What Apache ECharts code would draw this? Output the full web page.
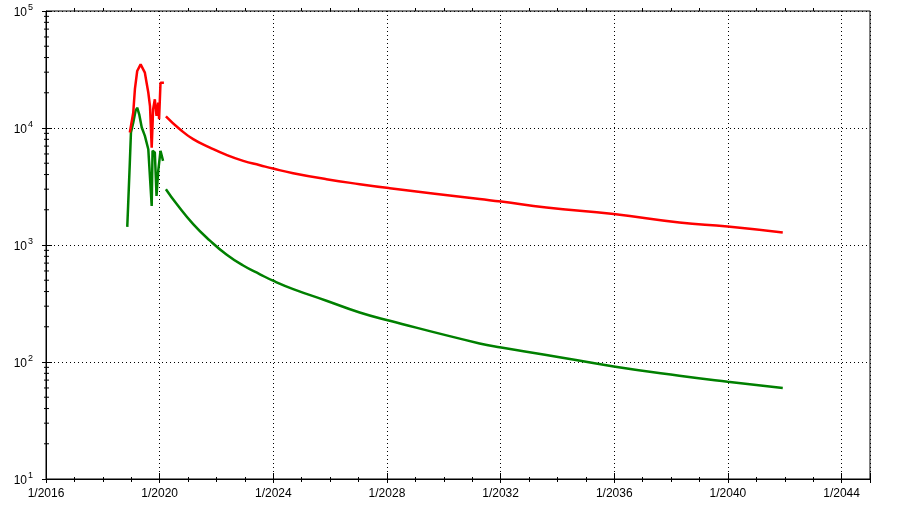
<!DOCTYPE html>
<html>
<head>
<meta charset="utf-8">
<script src="https://cdn.jsdelivr.net/npm/echarts@6/dist/echarts.min.js"></script>
<style>
  html, body { margin: 0; padding: 0; background: #fff; }
  #chart { width: 921px; height: 513px; }
</style>
</head>
<body>
<div id="chart"></div>
<script>
// x values are decimal years
var redEarlyX = [2018.95, 2019.07, 2019.13, 2019.21, 2019.33, 2019.40, 2019.48, 2019.54, 2019.60, 2019.66, 2019.72, 2019.77, 2019.83, 2019.89, 2019.95, 2019.98, 2020.03, 2020.10, 2020.15];
var redEarlyY = [9140, 13500, 21600, 30700, 35000, 33900, 29700, 24400, 20100, 15400, 6800, 14500, 17600, 12700, 16500, 11900, 24400, 23700, 24400];

var greenEarlyX = [2018.86, 2018.89, 2018.95, 2018.99, 2019.07, 2019.15, 2019.21, 2019.28, 2019.37, 2019.48, 2019.60, 2019.66, 2019.72, 2019.75, 2019.83, 2019.89, 2019.95, 2020.03, 2020.07, 2020.12];
var greenEarlyY = [1430, 2160, 5060, 9140, 11100, 14000, 14900, 13100, 10100, 8560, 6590, 6380, 2160, 6380, 6170, 2630, 4300, 6380, 6630, 5240];

var redLateX = [2020.22, 2020.71, 2021.18, 2021.77, 2022.35, 2022.94, 2023.53, 2023.99, 2024.70, 2025.87, 2027.04, 2028.10, 2031.26, 2032.02, 2033.61, 2035.98, 2038.29, 2039.99, 2041.93];
var redLateY = [12600, 9770, 8030, 6800, 5890, 5240, 4810, 4500, 4110, 3650, 3310, 3060, 2470, 2350, 2090, 1840, 1560, 1440, 1280];

var greenLateX = [2020.22, 2020.60, 2021.18, 2021.77, 2022.35, 2022.94, 2023.53, 2023.99, 2024.70, 2025.87, 2027.04, 2028.10, 2031.26, 2032.02, 2033.61, 2035.98, 2038.29, 2039.99, 2041.93];
var greenLateY = [3000, 2240, 1510, 1090, 830, 668, 562, 495, 420, 334, 265, 225, 144, 133, 115, 91.7, 76.4, 67.9, 60.0];

var xMin = 2016, xMax = 2045, xStep = 4;
var yMin = 10, yMax = 100000;

function zip(xs, ys) {
  return xs.map(function (x, i) { return [x, ys[i]]; });
}

// minor ticks of the log axis (2..9 in every decade)
var yMinor = [];
for (var d = yMin; d < yMax; d *= 10) {
  for (var k = 2; k <= 9; k++) yMinor.push([xMin, d * k]);
}

var chart = echarts.init(document.getElementById('chart'));
var font = 'Liberation Sans, Arial, sans-serif';
var dots = { color: '#000', width: 1, type: [1, 3] };

var option = {
  animation: false,
  grid: {
    left: 46, right: 51, top: 11, bottom: 34,
    show: true, borderColor: '#000', borderWidth: 1, backgroundColor: 'transparent'
  },
  xAxis: [
    {
      type: 'value', min: xMin, max: xMax, interval: xStep,
      axisLine: { show: true, lineStyle: { color: '#000', width: 1 } },
      axisTick: { show: true, length: 4, lineStyle: { color: '#000' } },
      minorTick: { show: true, splitNumber: 4, length: 3, lineStyle: { color: '#000' } },
      splitLine: { show: true, lineStyle: dots },
      axisLabel: {
        color: '#000', fontFamily: font, fontSize: 12, margin: 9, showMaxLabel: false,
        formatter: function (v) { return v % xStep === 0 ? '1/' + v : ''; }
      }
    },
    {
      // inner half of the bottom ticks
      type: 'value', min: xMin, max: xMax, interval: xStep, position: 'bottom',
      axisLine: { show: false },
      axisTick: { show: true, inside: true, length: 6, lineStyle: { color: '#000' } },
      minorTick: { show: true, splitNumber: 4, length: 2, lineStyle: { color: '#000' } },
      splitLine: { show: false },
      axisLabel: { show: false }
    },
    {
      type: 'value', min: xMin, max: xMax, interval: xStep, position: 'top',
      axisLine: { show: false },
      axisTick: { show: false },
      minorTick: { show: true, splitNumber: 4, length: 3, lineStyle: { color: '#000' } },
      splitLine: { show: false },
      axisLabel: { show: false }
    }
  ],
  yAxis: [
    {
      type: 'log', logBase: 10, min: yMin, max: yMax,
      axisLine: { show: true, lineStyle: { color: '#000', width: 1 } },
      axisTick: { show: true, length: 4, lineStyle: { color: '#000' } },
      splitLine: { show: true, lineStyle: dots },
      axisLabel: {
        color: '#000', fontFamily: font, margin: 13,
        formatter: function (v) {
          return '{b|10}{e|' + Math.round(Math.log10(v)) + '}';
        },
        rich: {
          b: { fontSize: 12, fontFamily: font, color: '#000', lineHeight: 16, verticalAlign: 'bottom' },
          e: { fontSize: 9, fontFamily: font, color: '#000', lineHeight: 16, verticalAlign: 'top', padding: [0, 0, 0, 1] }
        }
      }
    },
    {
      type: 'log', logBase: 10, min: yMin, max: yMax, position: 'left',
      axisLine: { show: false },
      axisTick: { show: true, inside: true, length: 6, lineStyle: { color: '#000' } },
      splitLine: { show: false },
      axisLabel: { show: false }
    }
  ],
  series: [
    {
      type: 'custom', silent: true, clip: false, z: 5,
      renderItem: function (params, api) {
        var p = api.coord([api.value(0), api.value(1)]);
        return {
          type: 'line',
          shape: { x1: p[0] - 2, y1: p[1], x2: p[0] + 3, y2: p[1] },
          style: { stroke: '#000', lineWidth: 1 }
        };
      },
      encode: { x: 0, y: 1 },
      data: yMinor
    },
    {
      type: 'line', data: zip(greenEarlyX, greenEarlyY), showSymbol: false,
      lineStyle: { color: '#008000', width: 2.5 }, itemStyle: { color: '#008000' }
    },
    {
      type: 'line', data: zip(greenLateX, greenLateY), showSymbol: false, smooth: true,
      lineStyle: { color: '#008000', width: 2.5 }, itemStyle: { color: '#008000' }
    },
    {
      type: 'line', data: zip(redEarlyX, redEarlyY), showSymbol: false,
      lineStyle: { color: '#ff0000', width: 2.5 }, itemStyle: { color: '#ff0000' }
    },
    {
      type: 'line', data: zip(redLateX, redLateY), showSymbol: false, smooth: true,
      lineStyle: { color: '#ff0000', width: 2.5 }, itemStyle: { color: '#ff0000' }
    }
  ]
};

chart.setOption(option);
</script>
</body>
</html>
